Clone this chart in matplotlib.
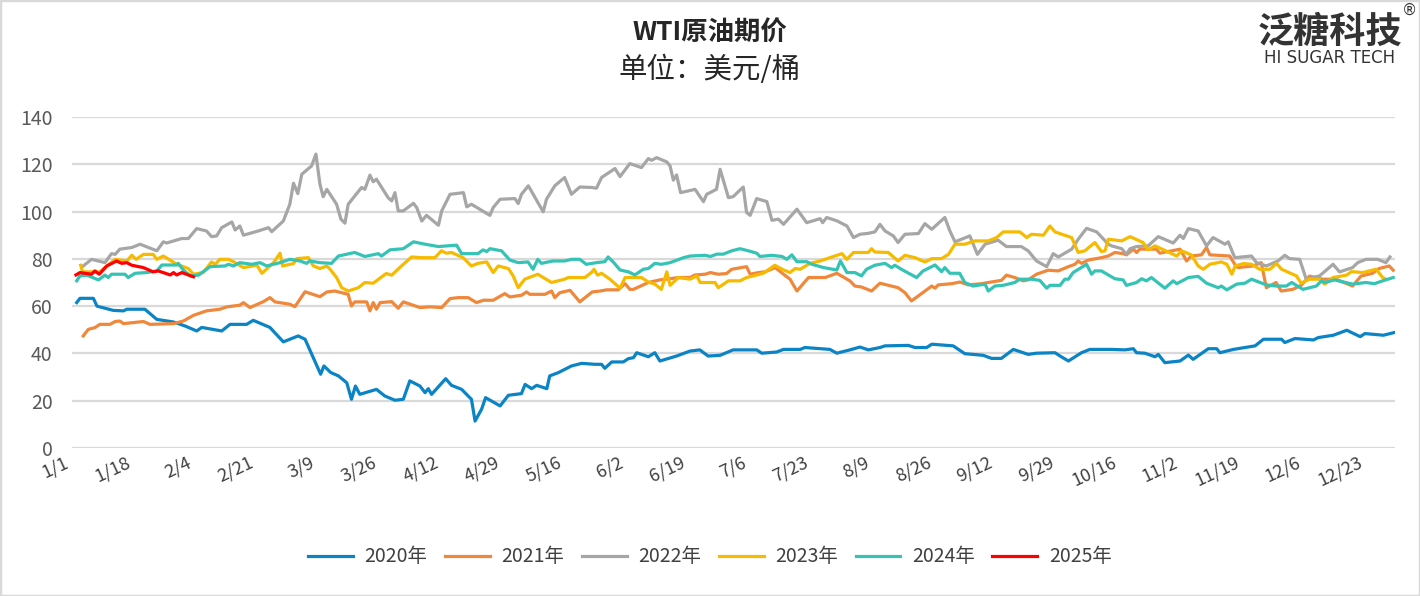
import matplotlib
matplotlib.use("Agg")
import matplotlib.pyplot as plt
from matplotlib.patches import Rectangle
from matplotlib.transforms import ScaledTranslation

plt.rcParams['font.family'] = ['Noto Sans CJK SC', 'DejaVu Sans']

# (day of year, USD/bbl)
wti_2020 = [(1.3, 61.5), (2.2, 63.3), (5.9, 63.3), (6.9, 60.0), (11.4, 58.2), (14.2, 58.0), (15.1, 58.7), (20.1, 58.7),
            (23.4, 54.4), (28.0, 53.3), (31.2, 51.6), (34.4, 49.5), (35.8, 51.0), (41.3, 49.5), (43.6, 52.3), (48.2, 52.3),
            (50.0, 54.0), (54.6, 51.0), (58.3, 44.9), (62.4, 47.4), (64.3, 46.0), (68.6, 31.2), (69.5, 34.7), (71.4, 31.9),
            (73.5, 30.5), (75.8, 27.6), (77.1, 20.6), (78.2, 26.2), (79.4, 22.7), (84.0, 24.8), (86.3, 22.0), (89.1, 20.2),
            (91.4, 20.6), (93.2, 28.4), (96.0, 26.2), (97.4, 23.4), (98.3, 25.1), (99.2, 22.7), (103.1, 29.3), (104.7, 26.5),
            (107.5, 24.8), (110.2, 20.6), (111.2, 11.4), (113.0, 16.4), (114.1, 21.3), (118.1, 17.8), (120.4, 22.3),
            (124.0, 23.0), (125.0, 26.9), (126.8, 25.1), (128.2, 26.5), (131.0, 25.1), (131.8, 30.5), (134.2, 31.9),
            (137.8, 34.7), (140.6, 35.8), (144.3, 35.4), (146.1, 35.4), (147.0, 33.7), (148.9, 36.4), (152.1, 36.4),
            (153.5, 37.8), (154.9, 38.2), (155.8, 40.3), (159.0, 38.6), (160.8, 40.3), (162.2, 36.8), (166.8, 38.9),
            (170.5, 41.0), (173.2, 41.5), (175.5, 38.9), (178.8, 39.2), (182.4, 41.5), (188.9, 41.5), (190.3, 40.1),
            (194.4, 40.6), (196.3, 41.7), (200.9, 41.7), (202.2, 42.5), (209.1, 41.7), (211.0, 40.1), (214.6, 41.5),
            (217.4, 42.7), (219.7, 41.5), (222.9, 42.5), (224.3, 43.2), (230.7, 43.4), (232.6, 42.5), (235.8, 42.5),
            (237.2, 43.9), (243.1, 43.2), (246.3, 39.9), (251.4, 39.2), (253.7, 37.9), (256.4, 37.9), (259.7, 41.7),
            (263.8, 39.6), (266.1, 40.1), (271.2, 40.3), (272.6, 38.9), (274.9, 36.8), (278.5, 40.3), (280.8, 41.7),
            (286.8, 41.7), (290.5, 41.5), (292.8, 42.0), (293.7, 40.3), (296.0, 40.1), (298.8, 38.6), (299.7, 39.6),
            (301.5, 36.1), (305.7, 36.8), (308.0, 39.3), (309.3, 37.5), (313.5, 42.0), (315.8, 42.0), (316.7, 40.3),
            (320.4, 41.7), (326.4, 43.2), (328.7, 46.0), (333.7, 46.0), (334.6, 44.6), (337.4, 46.3), (342.5, 45.7),
            (343.8, 46.7), (348.0, 47.7), (351.7, 49.8), (355.4, 47.1), (356.7, 48.4), (361.8, 47.7), (364.7, 48.8)]

wti_2021 = [(3.1, 47.4), (4.5, 50.2), (6.3, 50.9), (7.7, 52.3), (10.5, 52.3), (11.9, 53.5), (13.2, 53.7), (14.2, 52.6),
            (19.7, 53.5), (21.5, 52.3), (28.0, 52.6), (30.7, 53.7), (33.5, 56.1), (37.1, 58.0), (40.8, 58.7), (42.7, 59.7),
            (46.3, 60.4), (47.3, 61.5), (49.1, 59.4), (52.8, 61.9), (54.6, 63.6), (56.0, 61.8), (60.1, 60.8), (61.5, 59.8),
            (64.3, 66.1), (68.4, 64.0), (70.3, 66.0), (72.5, 66.4), (76.2, 65.0), (77.1, 60.1), (78.0, 61.8), (81.3, 61.8),
            (82.2, 58.0), (83.1, 61.5), (84.0, 58.7), (85.0, 61.5), (88.2, 61.9), (90.0, 59.1), (91.4, 61.8), (96.0, 59.4),
            (98.8, 59.7), (102.0, 59.4), (104.3, 63.2), (106.6, 63.6), (109.3, 63.6), (111.6, 61.5), (113.5, 62.5),
            (116.2, 62.5), (119.4, 65.3), (120.8, 63.9), (124.0, 64.6), (125.4, 66.0), (126.3, 65.0), (130.5, 65.0),
            (132.3, 66.4), (133.2, 63.6), (134.6, 65.7), (137.4, 66.7), (140.1, 61.8), (143.5, 66.0), (145.7, 66.4),
            (147.5, 66.9), (150.7, 66.9), (152.6, 69.5), (153.9, 67.1), (154.9, 67.1), (159.0, 70.0), (162.2, 71.1),
            (165.0, 71.6), (167.3, 72.1), (170.5, 72.1), (171.9, 73.2), (174.7, 73.5), (176.1, 74.2), (178.3, 73.5),
            (180.6, 73.8), (182.0, 75.6), (186.1, 76.7), (187.1, 73.5), (189.4, 74.2), (191.2, 74.5), (194.0, 76.3),
            (196.3, 73.5), (198.1, 71.4), (200.0, 66.4), (203.2, 72.1), (207.8, 72.1), (211.0, 73.9), (214.6, 70.7),
            (216.0, 68.5), (217.8, 68.1), (220.6, 66.4), (222.9, 69.7), (227.9, 67.8), (229.8, 65.7), (231.6, 62.2),
            (235.3, 66.4), (237.2, 68.5), (238.1, 67.6), (239.0, 69.0), (242.7, 69.5), (245.0, 70.2), (247.3, 69.0),
            (251.0, 69.5), (252.8, 70.0), (256.4, 70.9), (257.8, 73.1), (260.1, 72.1), (262.4, 70.7), (263.8, 71.1),
            (266.1, 73.5), (269.3, 75.2), (272.1, 74.9), (274.9, 76.7), (276.7, 77.7), (277.6, 79.1), (278.5, 78.1),
            (280.4, 79.5), (284.0, 80.5), (285.9, 81.2), (287.7, 82.7), (290.0, 82.2), (290.9, 81.7), (292.8, 84.1),
            (293.7, 82.7), (294.6, 84.1), (299.2, 84.1), (300.1, 82.4), (305.7, 84.1), (307.5, 79.1), (308.8, 81.2),
            (311.6, 81.7), (313.0, 84.8), (313.9, 81.7), (319.4, 81.2), (320.8, 77.7), (321.7, 76.3), (325.8, 77.0),
            (328.1, 78.4), (329.5, 67.8), (332.2, 70.0), (333.6, 66.4), (336.8, 67.1), (339.1, 68.8), (341.4, 72.7),
            (345.1, 71.4), (348.7, 71.4), (353.3, 68.5), (355.6, 72.7), (358.8, 73.9), (360.6, 75.9), (363.4, 77.0),
            (364.5, 75.2)]

wti_2022 = [(3.1, 77.0), (5.4, 79.8), (9.1, 78.4), (10.9, 82.2), (11.9, 81.9), (13.2, 84.1), (16.5, 84.8), (18.8, 86.2),
            (23.4, 83.4), (25.2, 87.2), (26.1, 86.7), (30.3, 88.6), (32.1, 88.6), (34.4, 92.8), (37.1, 91.8), (38.5, 89.4),
            (39.9, 89.7), (41.3, 93.2), (44.1, 95.6), (45.0, 92.2), (46.3, 93.9), (47.3, 90.0), (51.4, 91.8), (54.2, 93.2),
            (55.1, 91.5), (58.3, 96.0), (60.1, 103.1), (61.1, 112.0), (62.3, 107.6), (63.4, 115.8), (66.1, 119.3),
            (67.3, 124.3), (68.4, 111.6), (69.3, 106.3), (70.3, 109.4), (73.0, 103.1), (74.2, 96.8), (75.3, 95.1),
            (76.2, 103.1), (79.9, 110.2), (80.8, 109.4), (82.2, 115.4), (83.1, 112.6), (84.0, 113.7), (87.2, 105.9),
            (88.2, 104.5), (89.1, 108.0), (90.0, 100.3), (91.4, 100.3), (94.2, 103.5), (95.1, 101.7), (96.5, 96.0),
            (97.8, 98.4), (101.1, 94.2), (102.0, 100.3), (104.3, 107.3), (108.0, 108.0), (108.9, 102.0), (110.2, 103.1),
            (115.3, 98.4), (116.2, 101.7), (118.1, 105.2), (122.2, 105.5), (123.1, 103.4), (124.0, 107.3), (125.9, 110.9),
            (130.0, 99.9), (130.9, 105.2), (133.2, 110.9), (135.9, 114.4), (137.8, 107.3), (140.1, 110.4), (143.3, 110.2),
            (144.7, 109.9), (146.1, 114.4), (149.8, 118.2), (151.2, 114.8), (153.9, 120.3), (157.1, 118.6), (159.0, 122.4),
            (159.9, 121.7), (161.3, 122.8), (164.1, 121.0), (165.0, 119.3), (165.9, 113.3), (166.8, 115.5), (167.9, 108.0),
            (171.9, 109.4), (174.2, 104.2), (175.1, 107.3), (177.8, 109.4), (178.8, 117.9), (181.1, 105.9), (182.4, 106.3),
            (185.2, 110.4), (186.1, 99.6), (187.1, 98.4), (188.9, 105.5), (191.7, 104.2), (193.1, 96.3), (194.9, 96.8),
            (196.3, 94.6), (200.0, 101.0), (202.7, 95.3), (206.4, 97.0), (207.1, 95.3), (208.2, 97.5), (211.0, 96.1),
            (213.8, 93.9), (215.6, 89.0), (217.4, 90.4), (219.7, 90.8), (221.5, 91.4), (222.9, 94.6), (224.3, 91.8),
            (226.6, 89.7), (227.9, 86.9), (229.8, 90.4), (233.5, 90.7), (235.3, 94.9), (237.2, 92.5), (240.8, 97.5),
            (242.2, 91.8), (243.6, 87.2), (247.7, 89.7), (249.8, 81.9), (251.9, 86.2), (255.5, 87.9), (257.8, 85.2),
            (261.9, 85.2), (263.8, 83.4), (266.1, 79.1), (268.9, 76.7), (270.7, 82.2), (272.1, 80.8), (275.8, 84.1),
            (277.6, 88.3), (279.9, 92.9), (282.7, 91.4), (285.9, 86.2), (286.8, 85.5), (289.6, 84.3), (290.9, 81.9),
            (291.9, 84.3), (293.7, 85.2), (296.9, 85.5), (299.7, 89.4), (303.8, 86.7), (305.7, 90.0), (306.6, 88.6),
            (308.0, 92.8), (310.7, 91.8), (313.0, 85.5), (314.8, 89.0), (318.1, 86.2), (319.0, 87.2), (320.8, 80.5),
            (325.4, 81.2), (326.8, 78.4), (329.5, 77.0), (332.7, 79.1), (334.6, 81.5), (335.9, 80.1), (338.7, 79.8),
            (340.5, 71.4), (344.2, 72.8), (347.9, 77.7), (349.7, 74.5), (353.3, 76.3), (354.7, 78.4), (357.0, 79.8),
            (360.2, 79.8), (362.5, 78.4), (363.6, 80.8)]

wti_2023 = [(2.4, 77.3), (2.9, 74.5), (7.7, 74.5), (9.6, 77.0), (11.9, 79.8), (15.1, 79.1), (16.5, 81.5), (17.7, 79.8),
            (19.7, 81.9), (22.4, 81.9), (23.4, 79.8), (25.2, 81.2), (28.9, 77.7), (32.1, 75.9), (33.5, 73.5), (36.2, 74.2),
            (38.5, 78.7), (39.5, 77.7), (40.8, 79.8), (43.2, 79.8), (45.0, 78.4), (47.3, 76.3), (51.0, 77.3), (52.4, 73.9),
            (55.6, 78.4), (57.4, 82.4), (58.1, 77.0), (61.1, 78.0), (62.0, 80.1), (65.2, 80.5), (66.6, 77.0), (68.4, 75.9),
            (70.3, 77.0), (71.2, 75.6), (73.0, 72.1), (74.4, 67.8), (76.2, 66.4), (79.0, 67.8), (80.8, 70.0), (83.1, 69.7),
            (86.7, 73.8), (88.2, 73.1), (90.9, 77.0), (93.7, 80.8), (96.5, 80.5), (100.1, 80.5), (101.9, 83.4),
            (103.3, 82.4), (104.7, 82.7), (107.9, 80.5), (110.2, 77.0), (112.0, 78.1), (114.4, 78.7), (116.2, 74.2),
            (117.6, 77.0), (120.4, 75.9), (121.7, 72.8), (123.1, 67.8), (124.9, 71.4), (128.5, 73.5), (132.3, 70.0),
            (135.9, 71.4), (136.9, 72.1), (141.5, 72.1), (143.5, 74.5), (144.0, 75.6), (145.0, 73.1), (146.1, 73.9),
            (148.4, 71.4), (151.2, 67.6), (152.6, 72.1), (157.1, 72.1), (159.0, 70.2), (160.8, 69.3), (162.6, 67.1),
            (164.1, 74.5), (165.0, 68.8), (167.3, 72.1), (170.5, 71.4), (172.4, 72.8), (173.3, 70.0), (177.4, 70.0),
            (178.3, 67.8), (181.1, 70.7), (184.3, 70.7), (186.1, 72.1), (188.0, 72.8), (190.7, 73.9), (193.9, 77.3),
            (196.3, 75.3), (198.1, 74.2), (199.5, 75.9), (200.9, 75.6), (203.6, 78.1), (206.4, 79.1), (209.1, 80.5),
            (212.4, 82.2), (213.8, 79.8), (215.6, 82.7), (219.7, 82.7), (220.6, 84.3), (221.5, 82.9), (225.2, 82.7),
            (227.9, 79.1), (229.8, 81.5), (232.6, 80.5), (235.3, 78.7), (237.2, 80.1), (239.9, 80.1), (241.8, 81.9),
            (243.6, 86.2), (246.3, 86.2), (249.1, 87.6), (252.8, 87.6), (255.1, 89.0), (256.9, 91.4), (261.5, 91.4),
            (263.4, 89.0), (264.7, 90.4), (268.0, 90.0), (269.8, 93.9), (271.2, 91.4), (275.8, 89.0), (277.6, 82.7),
            (279.4, 83.4), (282.2, 86.9), (284.0, 83.1), (285.0, 83.4), (285.9, 88.3), (289.6, 87.6), (291.9, 89.4),
            (295.5, 86.9), (296.9, 83.8), (298.8, 85.5), (304.8, 81.2), (306.1, 83.4), (308.8, 81.7), (310.7, 77.0),
            (312.1, 75.6), (313.9, 77.7), (317.1, 78.7), (318.6, 77.7), (320.0, 73.5), (320.9, 77.0), (323.2, 78.0),
            (325.4, 77.7), (327.7, 75.6), (330.5, 75.6), (332.3, 78.1), (333.7, 75.6), (337.8, 72.8), (339.1, 69.7),
            (341.4, 71.4), (344.2, 71.4), (345.6, 69.3), (347.9, 72.1), (351.6, 73.1), (353.0, 74.6), (356.1, 74.2),
            (359.8, 75.6), (361.6, 72.1), (362.5, 71.4)]

wti_2024 = [(1.3, 70.7), (2.2, 72.8), (4.1, 73.1), (7.3, 71.1), (9.1, 73.1), (10.0, 72.1), (10.9, 73.5), (14.6, 73.5),
            (15.5, 72.1), (17.4, 73.9), (20.6, 74.2), (23.4, 74.9), (24.8, 77.4), (28.9, 77.4), (29.3, 78.1), (30.7, 75.3),
            (32.6, 72.8), (34.9, 73.1), (38.1, 76.7), (42.2, 77.0), (43.2, 77.7), (44.5, 77.0), (46.3, 78.4), (49.6, 77.7),
            (51.9, 78.4), (53.7, 77.0), (57.4, 78.4), (60.1, 79.8), (62.9, 79.1), (64.7, 78.1), (65.6, 79.1), (68.4, 78.4),
            (71.6, 78.1), (73.5, 81.2), (78.0, 82.7), (80.8, 81.0), (84.5, 82.2), (85.4, 81.2), (87.7, 83.8), (91.4, 84.3),
            (94.2, 87.2), (97.4, 86.2), (101.1, 85.2), (106.1, 85.8), (107.5, 82.2), (112.0, 82.2), (113.4, 83.8),
            (114.4, 83.1), (115.3, 84.3), (118.5, 83.4), (120.8, 79.5), (123.1, 78.4), (125.8, 78.7), (127.2, 75.6),
            (128.5, 79.8), (129.5, 78.1), (132.7, 79.1), (135.9, 79.1), (137.8, 79.8), (140.1, 79.8), (141.9, 77.7),
            (144.7, 78.4), (147.0, 78.8), (147.9, 80.8), (149.3, 78.7), (151.2, 75.3), (153.5, 74.5), (155.3, 73.2),
            (157.6, 75.6), (159.0, 75.9), (160.8, 78.1), (162.6, 77.7), (165.0, 78.4), (168.7, 80.5), (170.5, 81.2),
            (174.7, 81.5), (176.1, 81.0), (177.9, 82.0), (179.7, 82.0), (182.0, 83.4), (184.3, 84.3), (186.6, 83.4),
            (188.9, 82.4), (189.8, 81.0), (193.0, 81.5), (195.9, 81.0), (197.2, 79.8), (198.6, 81.7), (200.0, 78.8),
            (202.7, 78.8), (204.1, 77.7), (207.4, 76.3), (211.0, 75.3), (212.0, 79.1), (213.8, 74.2), (216.0, 74.2),
            (217.8, 72.8), (219.2, 75.6), (221.5, 77.3), (224.3, 78.1), (226.1, 76.3), (227.0, 77.3), (228.8, 75.6),
            (233.0, 72.1), (234.8, 74.9), (238.1, 77.4), (239.9, 74.6), (240.8, 76.3), (242.2, 73.9), (244.9, 73.9),
            (246.3, 70.0), (248.6, 68.5), (251.9, 69.3), (252.8, 66.4), (254.6, 68.5), (256.9, 68.8), (260.1, 70.0),
            (261.5, 71.4), (264.7, 71.4), (267.0, 70.9), (268.9, 67.6), (269.8, 68.8), (272.6, 68.8), (273.9, 71.4),
            (274.9, 71.4), (276.2, 74.2), (279.9, 77.7), (281.3, 73.5), (282.2, 74.9), (284.0, 74.9), (287.7, 71.6),
            (290.0, 71.1), (290.9, 68.8), (293.7, 70.0), (295.1, 71.6), (296.4, 70.7), (297.8, 72.1), (301.5, 67.6),
            (303.8, 70.7), (304.8, 69.5), (308.0, 72.1), (310.7, 72.6), (313.0, 69.7), (316.2, 67.8), (317.1, 68.5),
            (318.6, 66.9), (321.3, 69.3), (323.6, 69.7), (325.4, 71.4), (329.5, 69.0), (332.3, 68.5), (335.0, 68.5),
            (336.5, 70.0), (339.6, 67.1), (343.3, 68.5), (344.7, 70.7), (345.6, 70.0), (348.3, 71.1), (353.3, 69.3),
            (357.0, 70.0), (359.3, 69.5), (361.6, 70.7), (364.5, 72.1)]

wti_2025 = [(1.1, 73.2), (2.2, 74.2), (5.4, 73.5), (6.3, 74.9), (7.5, 73.5), (9.6, 77.0), (12.3, 79.1), (13.7, 78.1),
            (15.1, 78.4), (16.5, 77.3), (19.7, 76.3), (22.4, 74.5), (23.8, 74.9), (27.1, 73.2), (28.0, 74.2), (28.9, 73.2),
            (30.3, 74.2), (33.5, 72.4)]

years = ["2020年", "2021年", "2022年", "2023年", "2024年", "2025年"]
colors = ["#0b84c6", "#f0883c", "#a6a6a6", "#f6bb00", "#34c3b5", "#ff0000"]
tick_days = [0, 17, 34, 51, 68, 85, 102, 119, 136, 153, 170, 187, 204, 221, 238, 255, 272, 289, 306, 323, 340, 357]
tick_labels = ["1/1", "1/18", "2/4", "2/21", "3/9", "3/26", "4/12", "4/29", "5/16", "6/2", "6/19",
               "7/6", "7/23", "8/9", "8/26", "9/12", "9/29", "10/16", "11/2", "11/19", "12/6", "12/23"]


fig = plt.figure(figsize=(14.2, 5.96), dpi=100)
ax = fig.add_axes([72 / 1420, 148 / 596, 1323 / 1420, 331 / 596])

series = [wti_2020, wti_2021, wti_2022, wti_2023, wti_2024, wti_2025]
for data, name, c in zip(series, years, colors):
    days = [d for d, v in data]
    vals = [v for d, v in data]
    ax.plot(days, vals, color=c, linewidth=2.3, label=name, solid_joinstyle='round')

ax.set_xlim(0, 365)
ax.set_ylim(0, 140)
ax.set_yticks(range(0, 141, 20))
ax.grid(axis='y', color='#d9d9d9', linewidth=1.6)
ax.set_axisbelow(True)
for s in ax.spines.values():
    s.set_visible(False)
ax.set_xticks(tick_days)
ax.set_xticklabels(tick_labels, rotation=25, ha='right', rotation_mode='anchor')
ax.tick_params(axis='x', length=0, pad=4, labelsize=13, labelcolor='#404040')
ax.tick_params(axis='y', length=0, pad=14, labelsize=14, labelcolor='#595959')
# nudge the slanted date labels a bit to the left, like the original
shift = ScaledTranslation(-6 / 72, 0, fig.dpi_scale_trans)
for lbl in ax.get_xticklabels():
    lbl.set_transform(lbl.get_transform() + shift)

fig.text(0.5, 1 - 33 / 596, "WTI原油期价", ha='center', va='center', fontsize=19,
         fontweight='bold', color='#262626')
fig.text(0.5, 1 - 70 / 596, "单位：美元/桶", ha='center', va='center', fontsize=20.5, color='#262626')

fig.text(1330 / 1420, 1 - 32 / 596, "泛糖科技", ha='center', va='center', fontsize=26,
         fontweight='bold', color='#333333')
fig.text(1330 / 1420, 1 - 58 / 596, "HI SUGAR TECH", ha='center', va='center', fontsize=12,
         color='#333333', family='DejaVu Sans')
fig.text(1410 / 1420, 1 - 10 / 596, "®", ha='center', va='center', fontsize=11, color='#333333',
         family='DejaVu Sans')

fig.legend(loc='center', bbox_to_anchor=(0.5, 39 / 596), ncol=6, frameon=False,
           fontsize=14, handlelength=2.3, columnspacing=0.9, handletextpad=0.6,
           labelcolor='#404040')

fig.patches.append(Rectangle((0, 0), 1, 1, transform=fig.transFigure, fill=False,
                             edgecolor='#d9d9d9', linewidth=2.5))

fig.savefig("out.png", dpi=100)
